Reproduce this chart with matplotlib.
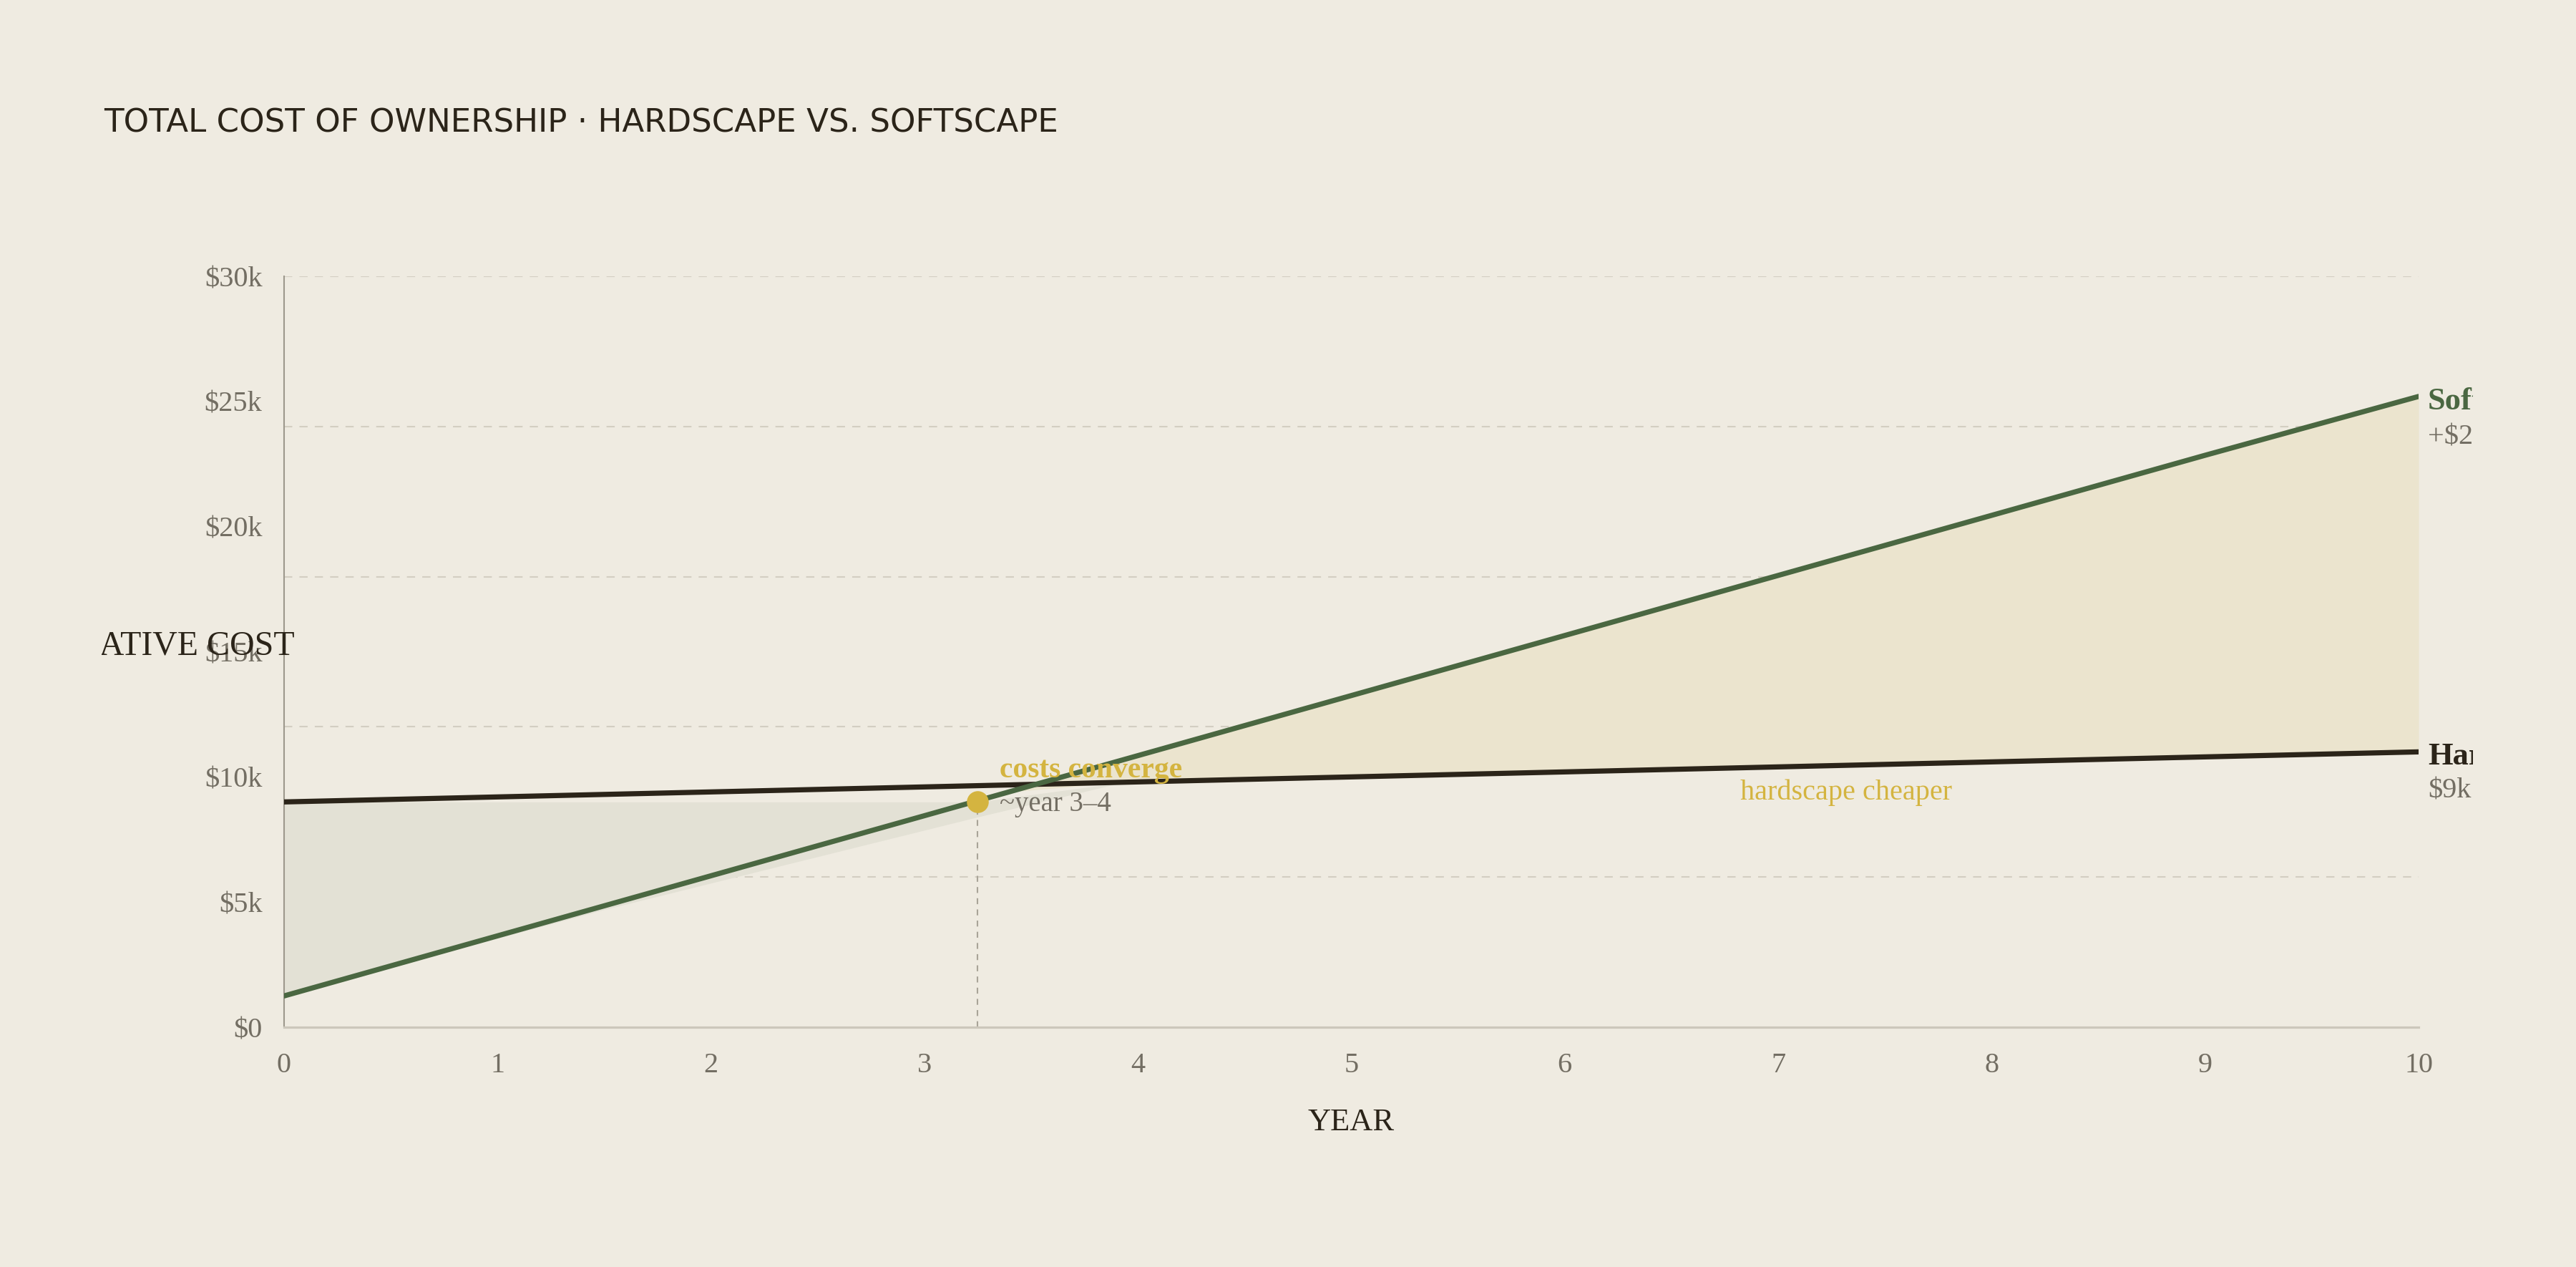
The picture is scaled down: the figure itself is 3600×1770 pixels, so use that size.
import matplotlib
matplotlib.use("Agg")
import matplotlib.pyplot as plt
from matplotlib.transforms import Bbox, TransformedBbox

# ---------------- data ----------------
years = [0, 1, 2, 3, 4, 5, 6, 7, 8, 9, 10]
hardscape = [9.0, 9.2, 9.4, 9.6, 9.8, 10.0, 10.2, 10.4, 10.6, 10.8, 11.0]   # $k cumulative
softscape = [1.25, 3.65, 6.05, 8.45, 10.85, 13.25, 15.65, 18.05, 20.45, 22.85, 25.2]

y_ticks = [0, 5, 10, 15, 20, 25, 30]
y_tick_labels = ["$0", "$5k", "$10k", "$15k", "$20k", "$25k", "$30k"]
x_ticks = years
x_tick_labels = [str(y) for y in years]
grid_levels = [6, 12, 18, 24, 30]

converge_year = 3.25
converge_value = 9.0

# shaded regions (boundaries)
gap_years = [0.0, 1.5, 3.25, 3.93]
gap_lower = [1.25, 4.7, 8.4, 9.78]
gap_upper = [9.0, 9.0, 9.0, 9.78]

cheap_years = [3.4, 3.93, 10.0]
cheap_lower = [9.4, 9.79, 10.96]
cheap_upper = [9.4, 10.68, 25.2]

title = "TOTAL COST OF OWNERSHIP · HARDSCAPE VS. SOFTSCAPE"
x_label = "YEAR"
y_label = "CUMULATIVE COST"
soft_name, soft_note = "Softscape", "+$2.4k/yr"
hard_name, hard_note = "Hardscape", "$9k"
converge_label, converge_note = "costs converge", "~year 3–4"
cheaper_label = "hardscape cheaper"
cheaper_pos = (7.32, 9.09)

# ---------------- style ----------------
BG = "#efebe1"
GREEN = "#4a6741"
DARK = "#2b2419"
GOLD = "#d4b440"
MUTED = "#736e63"
GRID = "#d3cec2"
SERIF = ["Liberation Serif", "DejaVu Serif"]

fig = plt.figure(figsize=(36, 17.7), dpi=100, facecolor=BG)
ax = fig.add_axes([397 / 3600, 1 - 1435 / 1770, (3380 - 397) / 3600, (1435 - 386) / 1770])
ax.set_facecolor(BG)
ax.set_xlim(0, 10)
ax.set_ylim(0, 30)

for g in grid_levels:
    ax.axhline(g, color=GRID, lw=1.5, linestyle=(0, (5.5, 4.8)), zorder=0.5)

ax.fill_between(gap_years, gap_lower, gap_upper, color="#e3e1d5", lw=0, zorder=1)
ax.fill_between(cheap_years, cheap_lower, cheap_upper, color="#ebe4ce", lw=0, zorder=1)

ax.plot([converge_year, converge_year], [0, converge_value], color="#a9a498", lw=1.5,
        linestyle=(0, (4, 3.5)), zorder=2)

ax.plot(years, hardscape, color=DARK, lw=5.2, solid_capstyle="round", zorder=3)
ax.plot(years, softscape, color=GREEN, lw=5.2, solid_capstyle="round", zorder=3.1)
ax.plot([converge_year], [converge_value], "o", color=GOLD, ms=22, mew=0, zorder=5)

for s in ["top", "right"]:
    ax.spines[s].set_visible(False)
ax.spines["left"].set_color("#9d988c")
ax.spines["left"].set_linewidth(1.5)
ax.spines["bottom"].set_color("#ccc7bb")
ax.spines["bottom"].set_linewidth(2.3)

ax.set_yticks(y_ticks)
ax.set_yticklabels(y_tick_labels)
ax.set_xticks(x_ticks)
ax.set_xticklabels(x_tick_labels)
ax.tick_params(axis="both", length=0, labelcolor=MUTED, labelsize=29)
ax.tick_params(axis="y", pad=22)
ax.tick_params(axis="x", pad=25)
for lab in ax.get_xticklabels() + ax.get_yticklabels():
    lab.set_fontfamily(SERIF)

clip = TransformedBbox(Bbox([[142 / 3600, 0], [3456 / 3600, 1]]), fig.transFigure)

# title and axis labels
fig.text(145 / 3600, 1 - 172 / 1770, title, fontsize=32.5, color=DARK,
         family="DejaVu Sans", va="center", ha="left")
fig.text(1888 / 3600, 1 - 1568 / 1770, x_label, fontsize=32, color=DARK,
         family=SERIF, va="center", ha="center")
yl = fig.text(-34 / 3600, 1 - 903 / 1770, y_label, fontsize=34.5, color=DARK,
              family=SERIF, va="center", ha="left")
yl.set_clip_box(clip)
yl.set_clip_on(True)

# annotations
ax.annotate(converge_label, (converge_year, converge_value), xytext=(22, 25),
            textcoords="offset points", fontsize=30, color=GOLD, family=SERIF,
            fontweight="bold", va="baseline", ha="left", zorder=6)
ax.annotate(converge_note, (converge_year, converge_value), xytext=(22, -9.5),
            textcoords="offset points", fontsize=28, color=MUTED, family=SERIF,
            va="baseline", ha="left", zorder=6)
ax.text(cheaper_pos[0], cheaper_pos[1], cheaper_label, fontsize=29, color=GOLD,
        family=SERIF, va="baseline", ha="center", zorder=6)

# end labels (clipped like reference)
end_labels = [
    (softscape[-1], soft_name, GREEN, "bold", -13),
    (softscape[-1], soft_note, MUTED, "normal", -47.5),
    (hardscape[-1], hard_name, DARK, "bold", -12.5),
    (hardscape[-1], hard_note, MUTED, "normal", -46),
]
for yv, txt, col, wt, dy in end_labels:
    t = ax.annotate(txt, (years[-1], yv), xytext=(9.4, dy), textcoords="offset points",
                    fontsize=32 if wt == "bold" else 29, color=col, fontweight=wt,
                    family=SERIF, va="baseline", ha="left", annotation_clip=False)
    t.set_clip_box(clip)
    t.set_clip_on(True)

fig.savefig("out.png", dpi=100, facecolor=BG)
